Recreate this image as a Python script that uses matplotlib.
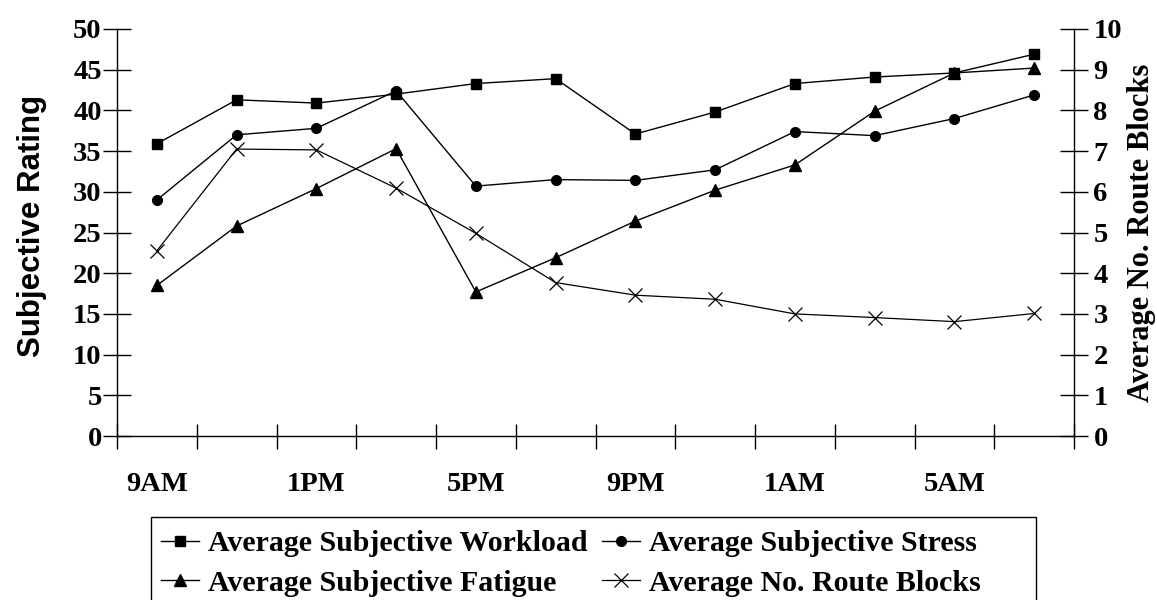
import matplotlib
matplotlib.use("Agg")
import matplotlib.pyplot as plt
from matplotlib.patches import Rectangle
from matplotlib.ticker import MultipleLocator, FixedLocator, NullFormatter

times = ["9AM", "11AM", "1PM", "3PM", "5PM", "7PM", "9PM", "11PM", "1AM", "3AM", "5AM", "7AM"]
tick_labels = ["9AM", "1PM", "5PM", "9PM", "1AM", "5AM"]

workload = [35.9, 41.3, 40.9, 42.0, 43.3, 43.9, 37.1, 39.8, 43.3, 44.1, 44.6, 46.9]
stress = [29.0, 37.0, 37.8, 42.4, 30.7, 31.5, 31.4, 32.7, 37.4, 36.9, 39.0, 41.9]
fatigue = [18.5, 25.8, 30.4, 35.3, 17.7, 21.9, 26.4, 30.2, 33.3, 39.9, 44.6, 45.2]
route_blocks = [4.55, 7.05, 7.03, 6.09, 4.98, 3.77, 3.46, 3.36, 3.00, 2.91, 2.81, 3.01]

serif = "Liberation Serif"
sans = "Liberation Sans"

W, H = 1157, 600
fig = plt.figure(figsize=(W / 100, H / 100), dpi=100)
ax = fig.add_axes([117/W, 1 - 436/H, (1074 - 117)/W, (436 - 29)/H])
ax2 = ax.twinx()

x = list(range(len(times)))
lw = 1.0
l1, = ax.plot(x, workload, color="black", lw=lw, marker="s", ms=7, label="Average Subjective Workload")
l2, = ax.plot(x, stress, color="black", lw=lw, marker="o", ms=7, label="Average Subjective Stress")
l3, = ax.plot(x, fatigue, color="black", lw=lw, marker="^", ms=8, label="Average Subjective Fatigue")
l4, = ax2.plot(x, route_blocks, color="black", lw=0.9, marker="x", ms=10, mew=0.9, label="Average No. Route Blocks")

ax.set_xlim(-0.5, len(times) - 0.5)
ax.set_ylim(0, 50)
ax2.set_ylim(0, 10)

for a in (ax, ax2):
    a.spines["top"].set_visible(False)
ax.spines["right"].set_visible(False)
ax2.spines["left"].set_visible(False)
ax2.spines["bottom"].set_visible(False)
for a in (ax, ax2):
    for s in a.spines.values():
        s.set_linewidth(1.0)

ax.yaxis.set_major_locator(MultipleLocator(5))
ax2.yaxis.set_major_locator(MultipleLocator(1))

# x ticks at category boundaries, labels every other category
ax.xaxis.set_major_locator(FixedLocator([i - 0.5 for i in range(len(times) + 1)]))
ax.xaxis.set_major_formatter(NullFormatter())
ax.set_xticks([i for i in range(0, len(times), 2)], minor=True)
ax.set_xticklabels(tick_labels, minor=True)
ax.tick_params(axis="x", which="minor", length=0, pad=26)
ax.tick_params(axis="x", which="major", direction="inout", length=18, width=1.0)

ax.tick_params(axis="y", direction="inout", length=20, width=1.0, pad=1)
ax2.tick_params(axis="y", direction="inout", length=20, width=1.0, pad=4)

for lab in ax.get_yticklabels() + ax2.get_yticklabels() + ax.get_xticklabels(minor=True):
    lab.set_fontfamily(serif)
    lab.set_fontweight("bold")
    lab.set_fontsize(20.5)

ax.set_ylabel("Subjective Rating", family=sans, weight="bold", fontsize=22.5, labelpad=19)
ax.yaxis.label.set_y(0.515)
ax2.set_ylabel("Average No. Route Blocks", family=serif, weight="bold", fontsize=22, labelpad=4)

# legend frame (extends past the bottom edge, as in the reference)
fig.patches.append(Rectangle((151/W, -20/H), (1036 - 151)/W, (600 - 517 + 20)/H,
                             transform=fig.transFigure, fill=False,
                             edgecolor="black", linewidth=1.0))

leg = fig.legend(handles=[l1, l3, l2, l4], ncol=2, loc="upper left",
                 bbox_to_anchor=(155/W, 1 - 524/H),
                 prop=dict(family=serif, weight="bold", size=21.5),
                 frameon=False,
                 handlelength=1.27, handletextpad=0.3, columnspacing=0.5,
                 borderpad=0.2, labelspacing=0.42, borderaxespad=0)

fig.savefig("out.png", dpi=100)
